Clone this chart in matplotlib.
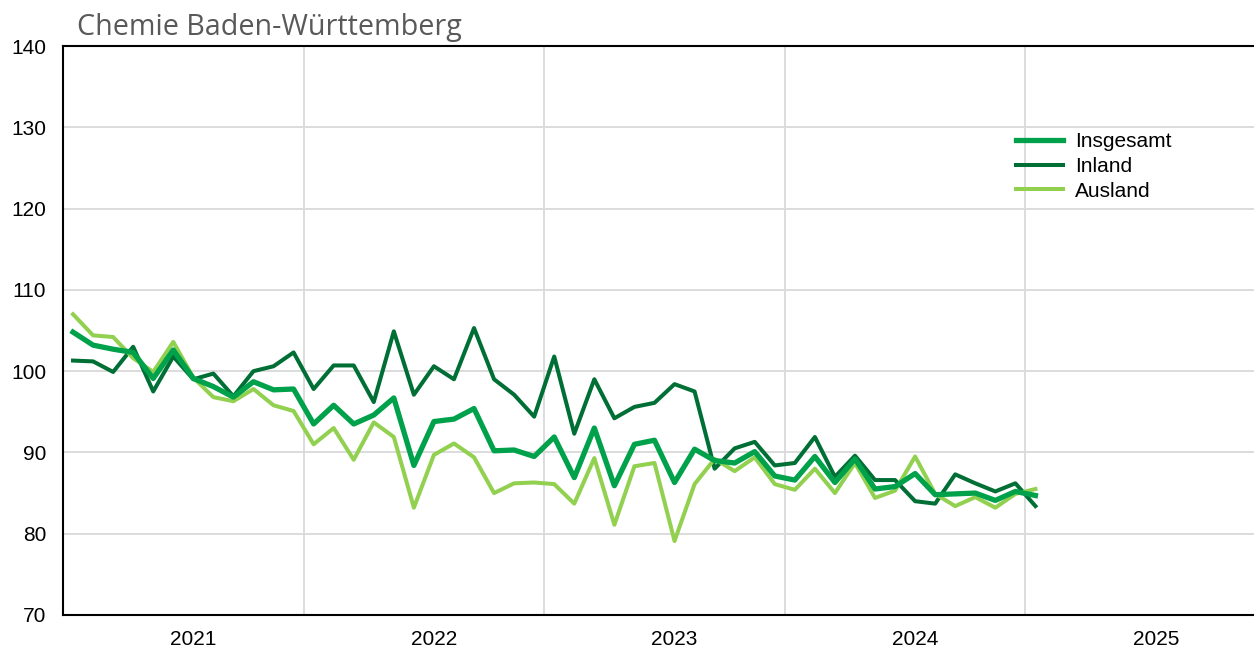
import numpy as np
import matplotlib.pyplot as plt

# monthly values Jan 2021 .. Jan 2025
insgesamt = [104.8, 103.2, 102.7, 102.3, 99.1, 102.6, 99.1, 98.1, 96.8, 98.7, 97.7, 97.8,
             93.5, 95.8, 93.5, 94.6, 96.7, 88.4, 93.8, 94.1, 95.4, 90.2, 90.3, 89.5,
             91.9, 86.9, 93.0, 85.9, 91.0, 91.5, 86.3, 90.4, 89.0, 88.7, 90.1, 87.1,
             86.6, 89.5, 86.3, 89.2, 85.5, 85.8, 87.4, 84.8, 84.9, 85.0, 84.1, 85.2,
             84.7]
inland = [101.3, 101.2, 99.9, 103.0, 97.5, 101.8, 99.0, 99.7, 96.9, 100.0, 100.6, 102.3,
          97.8, 100.7, 100.7, 96.2, 104.9, 97.1, 100.6, 99.0, 105.3, 99.0, 97.1, 94.4,
          101.8, 92.3, 99.0, 94.2, 95.6, 96.1, 98.4, 97.5, 88.0, 90.5, 91.3, 88.4,
          88.7, 91.9, 87.0, 89.6, 86.6, 86.6, 84.0, 83.7, 87.3, 86.2, 85.2, 86.2,
          83.4]
ausland = [107.0, 104.4, 104.2, 101.6, 99.9, 103.6, 99.2, 96.8, 96.3, 97.8, 95.8, 95.1,
           91.0, 93.0, 89.1, 93.7, 91.9, 83.2, 89.7, 91.1, 89.4, 85.0, 86.2, 86.3,
           86.1, 83.7, 89.3, 81.1, 88.3, 88.7, 79.1, 86.1, 89.2, 87.7, 89.4, 86.1,
           85.4, 88.0, 85.0, 88.7, 84.4, 85.3, 89.5, 84.9, 83.4, 84.5, 83.2, 84.9,
           85.5]
years = ['2021', '2022', '2023', '2024', '2025']

plt.rcParams['font.family'] = ['Liberation Sans', 'DejaVu Sans']

fig = plt.figure(figsize=(12.54, 6.5), dpi=100)
# plot area runs past the right edge of the picture, like in the original
ax = fig.add_axes([63 / 1254, 35 / 650, 1203 / 1254, 569 / 650])

x = np.arange(len(insgesamt))
ax.plot(x, insgesamt, color='#00a14b', lw=3.8, label='Insgesamt', zorder=4)
ax.plot(x, inland, color='#006f35', lw=2.9, label='Inland', zorder=3)
ax.plot(x, ausland, color='#92d050', lw=2.9, label='Ausland', zorder=3)

ax.set_xlim(-0.5, 59.5)
ax.set_ylim(70, 140)
ax.set_yticks(np.arange(70, 141, 10))
ax.set_xticks([6 + 12 * k for k in range(len(years))])
ax.set_xticklabels(years)
ax.tick_params(axis='both', length=0, labelsize=15, colors='black')
ax.tick_params(axis='y', pad=12)
ax.tick_params(axis='x', pad=11)

# grid: horizontal every 10, vertical at year boundaries
for v in np.arange(80, 140, 10):
    ax.axhline(v, color='#d9d9d9', lw=1.3, zorder=1)
for k in range(1, 6):
    ax.axvline(12 * k - 0.5, color='#d9d9d9', lw=1.3, zorder=1)

for s in ['left', 'bottom', 'top']:
    ax.spines[s].set_linewidth(1.5)
    ax.spines[s].set_color('black')
ax.spines['right'].set_visible(False)

leg = ax.legend(loc='upper left', bbox_to_anchor=(1016 / 1254, 1 - 132 / 650),
                bbox_transform=fig.transFigure, frameon=False, borderpad=0,
                borderaxespad=0, fontsize=15, handlelength=2.25,
                handletextpad=0.6, labelspacing=0.28)

fig.text(77 / 1254, 1 - 27 / 650, 'Chemie Baden-Württemberg', fontsize=20.7,
         color='#595959', family='Open Sans', va='center', ha='left')

fig.savefig('out.png', dpi=100)
